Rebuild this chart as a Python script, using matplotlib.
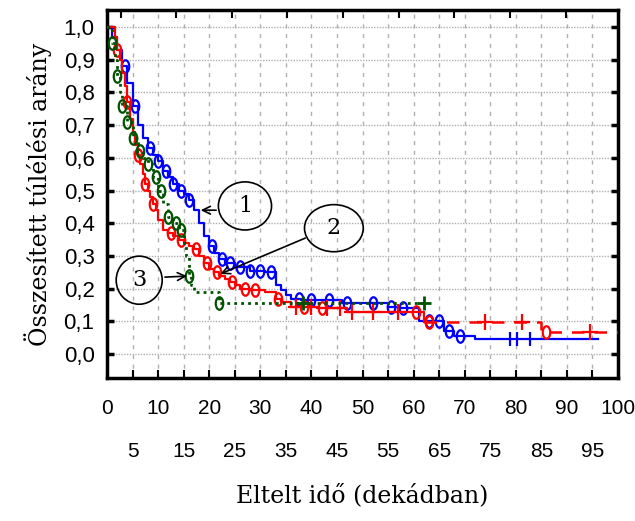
import numpy as np
import matplotlib
matplotlib.use("Agg")
import matplotlib.pyplot as plt
from matplotlib.patches import Ellipse
from matplotlib.path import Path
from matplotlib.transforms import Affine2D

# survival curves (step functions)
t1 = [0, 1, 2, 3, 4, 5, 6, 7, 8, 9, 10, 11, 12, 13, 14, 15, 16, 17, 18, 19, 20, 21, 22, 23,
      25, 28, 31, 33, 34, 35, 36, 38, 46, 55, 57, 61, 66, 68, 72]
s1 = [1.00, 0.97, 0.93, 0.88, 0.83, 0.76, 0.70, 0.66, 0.63, 0.61, 0.59, 0.56, 0.54, 0.52, 0.50,
      0.49, 0.47, 0.44, 0.40, 0.36, 0.33, 0.31, 0.29, 0.28, 0.265, 0.255, 0.25, 0.21, 0.195,
      0.18, 0.17, 0.165, 0.155, 0.145, 0.14, 0.10, 0.07, 0.055, 0.045]
t1_end = 96

t2 = [0, 1.5, 2, 2.5, 3, 3.5, 4, 4.5, 5, 5.5, 6, 6.5, 7, 7.5, 8, 8.5, 9, 9.5, 10, 11, 12, 13,
      14, 15, 16, 17, 18, 19, 20, 21, 22, 23, 24, 25, 26, 28, 31, 33, 34, 36, 41, 47, 62, 85]
s2 = [1.00, 0.97, 0.93, 0.90, 0.86, 0.82, 0.77, 0.72, 0.68, 0.64, 0.61, 0.58, 0.55, 0.52, 0.50,
      0.48, 0.46, 0.44, 0.41, 0.38, 0.37, 0.36, 0.35, 0.34, 0.33, 0.32, 0.30, 0.28, 0.26, 0.25,
      0.24, 0.23, 0.22, 0.21, 0.20, 0.195, 0.19, 0.17, 0.16, 0.145, 0.14, 0.128, 0.098, 0.067]
t2_end = 100

t3 = [0, 1, 1.5, 2, 2.5, 3, 4, 5, 6, 7, 8, 9, 10, 11, 12, 13, 14, 15, 15.5, 16, 16.5, 17, 22]
s3 = [1.00, 0.95, 0.90, 0.85, 0.80, 0.76, 0.71, 0.66, 0.62, 0.60, 0.58, 0.54, 0.50, 0.46, 0.42,
      0.40, 0.38, 0.34, 0.30, 0.24, 0.21, 0.19, 0.155]
t3_end = 62

# censored observations
c1_o = [3.5, 5.5, 8.5, 10, 11.5, 13, 14.5, 16, 20.5, 22.5, 24, 26, 28, 30, 32, 37.5, 40, 43.5,
        47, 52, 55.5, 58, 63, 65, 67, 69]
c1_p = [78.9, 80.2, 82.8]
c2_o = [2, 4, 6, 7.5, 9, 12.5, 14.5, 17.5, 19.5, 21.5, 24.5, 27, 29, 33.5, 38.5, 42, 60.5, 63, 86]
c2_p = [37, 40, 43, 45.5, 48, 52, 57, 74, 81.2, 94.5]
c3_o = [1, 2, 3, 4, 5, 6.5, 8, 9.5, 10.5, 12, 13.5, 14.5, 16, 22]
c3_p = [38.4, 62]

xmajor = np.arange(0, 101, 10)
xminor = np.arange(5, 100, 10)
yticks = np.round(np.arange(0, 1.01, 0.1), 1)
top_ticks = [2.7, 13.6, 24.5, 35.3, 46.2, 57.1, 68.0, 78.9, 89.8]


def step_xy(t, s, t_end):
    x = list(t) + [t_end]
    y = list(s) + [s[-1]]
    return x, y


def at(t, s, x):
    idx = np.searchsorted(t, x, side="right") - 1
    return np.array(s)[idx]


blue = "#0000ff"
red = "#ff0000"
green = "#005200"
sans = ["Liberation Sans", "DejaVu Sans"]
serif = ["DejaVu Serif"]

fig = plt.figure(figsize=(6.35, 5.21), dpi=100)
ax = fig.add_axes([107 / 635, 1 - 378 / 521, 511 / 635, 368 / 521])

for v in np.arange(5, 100, 5):
    ax.axvline(v, color="#b0b0b0", lw=1, ls=(0, (3, 4)), zorder=0)
for v in yticks:
    ax.axhline(v, color="#b0b0b0", lw=1, ls=(0, (1, 1)), zorder=0)

ell = Path.unit_circle().transformed(Affine2D().scale(0.6, 1.0))

x, y = step_xy(t1, s1, t1_end)
ax.step(x, y, where="post", color=blue, lw=1.6, zorder=3)
ax.plot(c1_o, at(t1, s1, c1_o), ls="none", marker=ell, ms=9, mfc="none", mec=blue, mew=1.6, zorder=3)
ax.plot(c1_p, at(t1, s1, c1_p), ls="none", marker="|", ms=10, mec=blue, mew=1.6, zorder=3)

x, y = step_xy(t2, s2, t2_end)
n = t2.index(62)
ax.step(x[:n + 1], y[:n + 1], where="post", color=red, lw=1.6, zorder=4)
ax.step(x[n:], y[n:], where="post", color=red, lw=1.8, ls=(0, (5, 4)), zorder=4)
ax.plot(c2_o, at(t2, s2, c2_o), ls="none", marker=ell, ms=9, mfc="none", mec=red, mew=1.6, zorder=4)
ax.plot(c2_p, at(t2, s2, c2_p), ls="none", marker="+", ms=11, mec=red, mew=1.6, zorder=4)

x, y = step_xy(t3, s3, t3_end)
ax.step(x, y, where="post", color=green, lw=2, ls=(0, (1, 1.5)), zorder=5)
ax.plot(c3_o, at(t3, s3, c3_o), ls="none", marker=ell, ms=9, mfc="none", mec=green, mew=1.6, zorder=5)
ax.plot(c3_p, at(t3, s3, c3_p), ls="none", marker="+", ms=10, mec=green, mew=2, zorder=5)

# circled curve numbers
labels = [("1", (27.0, 0.453), 10.4, 0.147, (21.9, 0.44), (17.8, 0.44)),
          ("2", (44.4, 0.385), 11.5, 0.144, (39.3, 0.358), (21.7, 0.242)),
          ("3", (6.3, 0.226), 9.0, 0.147, (10.8, 0.235), (16.2, 0.239))]
for txt, c, w, h, p0, p1 in labels:
    ax.add_patch(Ellipse(c, w, h, fill=False, ec="black", lw=1.2, zorder=6))
    ax.text(c[0], c[1], txt, ha="center", va="center", fontsize=16, family=serif, zorder=6)
    ax.annotate("", xy=p1, xytext=p0,
                arrowprops=dict(arrowstyle="->", color="black", lw=1.2, mutation_scale=14), zorder=6)

ax.set_xlim(0, 100)
ax.set_ylim(-0.073, 1.052)

ax.set_xticks(xmajor)
ax.set_xticklabels([str(v) for v in xmajor], family=sans, fontsize=15)
ax.set_xticks(xminor, minor=True)
ax.set_xticklabels([str(v) for v in xminor], minor=True, family=sans, fontsize=15)
ax.tick_params(axis="x", which="major", direction="in", length=6, width=1.5, pad=15)
ax.tick_params(axis="x", which="minor", direction="in", length=6, width=1.5, pad=46)

ax.set_yticks(yticks)
ax.set_yticklabels([f"{v:.1f}".replace(".", ",") for v in yticks], family=sans, fontsize=16)
ax.tick_params(axis="y", direction="in", length=5, width=2.5, pad=9, right=True)

top = ax.secondary_xaxis("top")
top.set_xticks(top_ticks)
top.set_xticklabels([])
top.tick_params(direction="in", length=6, width=1.5)
top.spines["top"].set_visible(False)

for sp in ax.spines.values():
    sp.set_linewidth(2.5)

ax.set_xlabel("Eltelt idő (dekádban)", family=serif, fontsize=17, labelpad=16)
ax.set_ylabel("Összesített túlélési arány", family=serif, fontsize=17, labelpad=8)

fig.savefig("out.png", dpi=100)
